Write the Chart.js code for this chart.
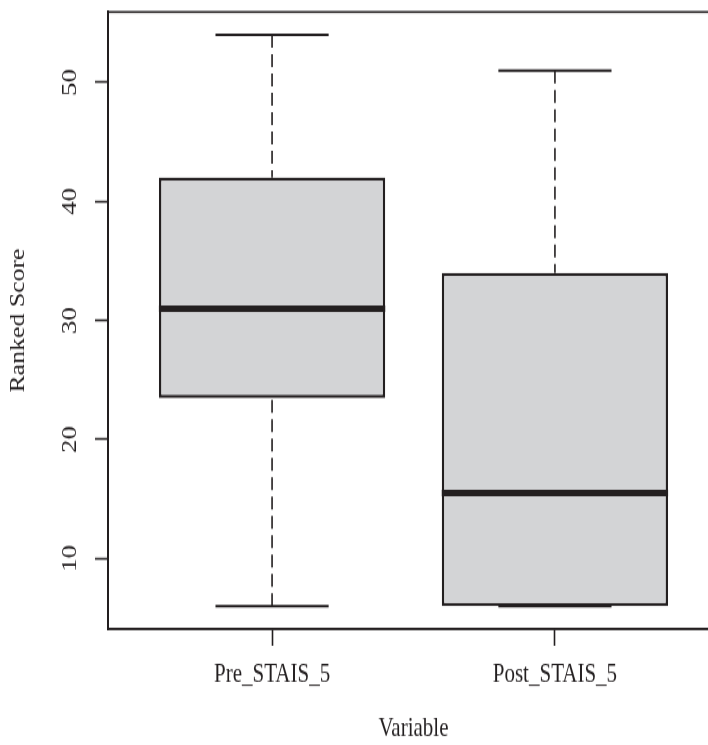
<!DOCTYPE html>
<html>
<head>
<meta charset="utf-8">
<script src="https://cdn.jsdelivr.net/npm/chart.js@4/dist/chart.umd.min.js"></script>
<style>
  html, body { margin: 0; padding: 0; background: #fff; overflow: hidden; }
</style>
</head>
<body>
<!-- drawn at 730x578 and stretched to 745 tall, like the reference -->
<canvas id="boxChart" width="730" height="578" style="width:730px;height:745px;display:block"></canvas>
<script>
// box statistics
const categories = ['Pre_STAIS_5', 'Post_STAIS_5'];
const positions = [1, 2];
const mins = [6, 6];
const q1s = [23.5, 6];
const medians = [31, 15.5];
const q3s = [42, 34];
const maxs = [54, 51];
const yTicks = [10, 20, 30, 40, 50];

const ink = '#231f20';
const serif = '"Liberation Serif", "Times New Roman", serif';

// whiskers, caps, medians and the frame, placed with the chart's scales
const boxExtras = {
    id: 'boxExtras',
    afterDatasetsDraw(chart) {
        const ctx = chart.ctx;
        const area = chart.chartArea;
        const x = chart.scales.x;
        const y = chart.scales.y;

        function seg(x1, y1, x2, y2) {
            ctx.beginPath();
            ctx.moveTo(x1, y1);
            ctx.lineTo(x2, y2);
            ctx.stroke();
        }

        ctx.save();
        ctx.strokeStyle = ink;
        ctx.lineCap = 'butt';
        positions.forEach(function(p, i) {
            const cx = x.getPixelForValue(p);
            // dashed whiskers, from the ends toward the box
            ctx.setLineDash([10, 5]);
            ctx.lineWidth = 1.6;
            seg(cx, y.getPixelForValue(maxs[i]), cx, y.getPixelForValue(q3s[i]));
            seg(cx, y.getPixelForValue(mins[i]), cx, y.getPixelForValue(q1s[i]));
            ctx.setLineDash([]);
            // caps
            ctx.lineWidth = 2;
            const capL = x.getPixelForValue(p - 0.2);
            const capR = x.getPixelForValue(p + 0.2);
            seg(capL, y.getPixelForValue(maxs[i]), capR, y.getPixelForValue(maxs[i]));
            seg(capL, y.getPixelForValue(mins[i]), capR, y.getPixelForValue(mins[i]));
            // median
            ctx.lineWidth = 5;
            seg(x.getPixelForValue(p - 0.4), y.getPixelForValue(medians[i]),
                x.getPixelForValue(p + 0.4), y.getPixelForValue(medians[i]));
        });
        // plot frame
        ctx.lineWidth = 1.6;
        ctx.strokeRect(area.left, area.top, area.right - area.left, area.bottom - area.top);
        ctx.restore();
    }
};

const data = {
    datasets: [{
        data: positions.map(function(p, i) { return { x: p, y: [q1s[i], q3s[i]] }; }),
        backgroundColor: '#d3d4d6',
        borderColor: ink,
        borderWidth: 2.5,
        borderSkipped: false,
        barPercentage: 0.8,
        categoryPercentage: 1.0
    }]
};

const config = {
    type: 'bar',
    data: data,
    plugins: [boxExtras],
    options: {
        responsive: false,
        devicePixelRatio: 1,
        animation: false,
        layout: { padding: { top: 9.3, right: 11, left: 0, bottom: 0 } },
        plugins: { legend: { display: false }, tooltip: { enabled: false } },
        scales: {
            x: {
                type: 'linear',
                min: 0.42,
                max: 2.58,
                offset: false,
                afterBuildTicks: function(scale) {
                    scale.ticks = positions.map(function(v) { return { value: v }; });
                },
                afterFit: function(scale) {
                    scale.height = 90;
                    scale.paddingLeft = 0;
                    scale.paddingRight = 0;
                },
                grid: { drawOnChartArea: false, offset: false, tickLength: 13, tickColor: ink, tickWidth: 1.6 },
                border: { display: true, color: ink, width: 1.6 },
                ticks: {
                    autoSkip: false,
                    maxRotation: 0,
                    padding: 10,
                    color: ink,
                    font: { family: serif, size: 21 },
                    callback: function(value) { return categories[positions.indexOf(value)]; }
                },
                title: {
                    display: true,
                    text: 'Variable',
                    color: ink,
                    font: { family: serif, size: 21 },
                    padding: { top: 0, bottom: 0 }
                }
            },
            y: {
                min: 4.08,
                max: 55.92,
                afterBuildTicks: function(scale) {
                    scale.ticks = yTicks.map(function(v) { return { value: v }; });
                },
                afterFit: function(scale) {
                    scale.width = 108;
                    scale.paddingTop = 0;
                    scale.paddingBottom = 0;
                },
                grid: { drawOnChartArea: false, tickLength: 13, tickColor: ink, tickWidth: 1.6 },
                border: { display: true, color: ink, width: 2 },
                ticks: {
                    minRotation: 90,
                    maxRotation: 90,
                    crossAlign: 'center',
                    padding: 14.5,
                    color: ink,
                    font: { family: serif, size: 21 }
                },
                title: {
                    display: true,
                    text: 'Ranked Score',
                    color: ink,
                    font: { family: serif, size: 20 },
                    padding: { top: 7, bottom: 0 }
                }
            }
        }
    }
};

const boxChart = new Chart(document.getElementById('boxChart').getContext('2d'), config);
</script>
</body>
</html>
